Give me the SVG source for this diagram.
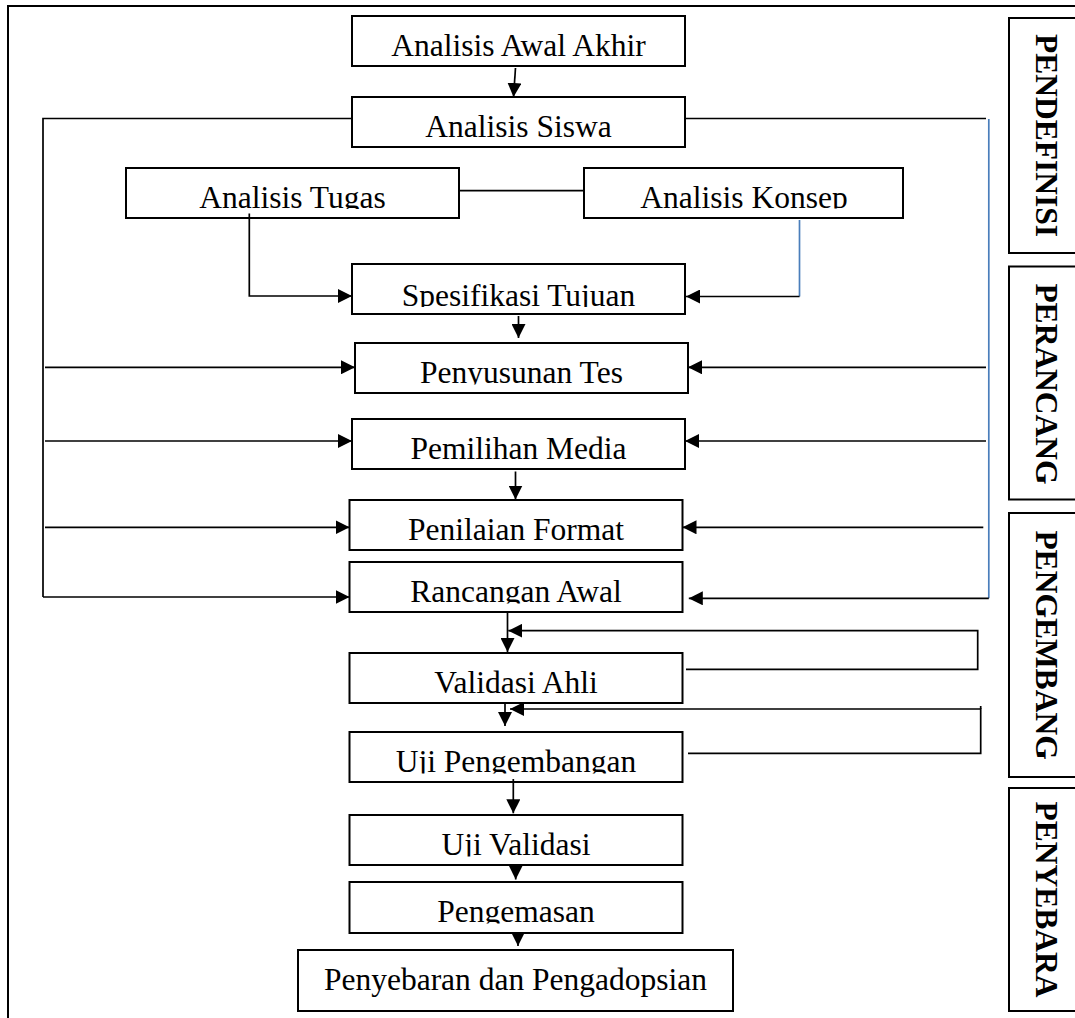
<svg xmlns="http://www.w3.org/2000/svg" width="1075" height="1018" viewBox="0 0 1075 1018">
<style>
.box{fill:#fff;stroke:#000;stroke-width:2}
.t{font-family:"Liberation Serif","Times New Roman",serif;font-size:31.5px;fill:#000;text-anchor:middle}
.lbl{font-family:"Liberation Serif","Times New Roman",serif;font-size:31.5px;font-weight:bold;fill:#000;text-anchor:middle}
.c{fill:none;stroke:#000;stroke-width:1.7}
.cb{fill:none;stroke:#4A7EBB;stroke-width:1.7}
.a{marker-end:url(#ah)}
</style>
<defs>
<marker id="ah" markerUnits="userSpaceOnUse" viewBox="0 0 14 14" refX="14" refY="7" markerWidth="14" markerHeight="14" orient="auto">
<path d="M0,0 L14,7 L0,14 z" fill="#000"/>
</marker>
<clipPath id="c-tugas" clipPathUnits="userSpaceOnUse"><rect x="120" y="160" width="350" height="49"/></clipPath>
<clipPath id="c-konsep" clipPathUnits="userSpaceOnUse"><rect x="580" y="160" width="330" height="48.5"/></clipPath>
<clipPath id="c-spes" clipPathUnits="userSpaceOnUse"><rect x="345" y="255" width="350" height="52"/></clipPath>
<clipPath id="c-peny" clipPathUnits="userSpaceOnUse"><rect x="345" y="335" width="350" height="49.5"/></clipPath>
<clipPath id="c-ranc" clipPathUnits="userSpaceOnUse"><rect x="345" y="555" width="350" height="48.5"/></clipPath>
<clipPath id="c-ujip" clipPathUnits="userSpaceOnUse"><rect x="345" y="725" width="350" height="48.5"/></clipPath>
<clipPath id="c-ujiv" clipPathUnits="userSpaceOnUse"><rect x="345" y="808" width="350" height="48.5"/></clipPath>
<clipPath id="c-peng" clipPathUnits="userSpaceOnUse"><rect x="345" y="875" width="350" height="48.5"/></clipPath>
</defs>
<rect width="1075" height="1018" fill="#fff"/>
<path d="M8,1018 V6 H1075" fill="none" stroke="#000" stroke-width="2"/>

<g id="n-awal"><rect class="box" x="352" y="16" width="333" height="50"/><text class="t" x="518.5" y="56">Analisis Awal Akhir</text></g>
<g id="n-siswa"><rect class="box" x="352" y="97" width="333" height="50"/><text class="t" x="518.5" y="136.5">Analisis Siswa</text></g>
<g id="n-tugas"><rect class="box" x="126" y="168" width="333" height="50"/><text class="t" x="292.5" y="208" clip-path="url(#c-tugas)">Analisis Tugas</text></g>
<g id="n-konsep"><rect class="box" x="584" y="168" width="319" height="50"/><text class="t" x="744" y="208" clip-path="url(#c-konsep)">Analisis Konsep</text></g>
<g id="n-spes"><rect class="box" x="352" y="264" width="333" height="50"/><text class="t" x="518.5" y="305.5" clip-path="url(#c-spes)">Spesifikasi Tujuan</text></g>
<g id="n-peny"><rect class="box" x="355" y="343" width="333" height="50"/><text class="t" x="521.5" y="383" clip-path="url(#c-peny)">Penyusunan Tes</text></g>
<g id="n-media"><rect class="box" x="352" y="419" width="333" height="50"/><text class="t" x="518.5" y="459">Pemilihan Media</text></g>
<g id="n-format"><rect class="box" x="349.5" y="500" width="333" height="50"/><text class="t" x="516" y="540">Penilaian Format</text></g>
<g id="n-ranc"><rect class="box" x="349.5" y="562" width="333" height="50"/><text class="t" x="516" y="602" clip-path="url(#c-ranc)">Rancangan Awal</text></g>
<g id="n-valahli"><rect class="box" x="349.5" y="653" width="333" height="50"/><text class="t" x="516" y="693">Validasi Ahli</text></g>
<g id="n-ujipeng"><rect class="box" x="349.5" y="732" width="333" height="50"/><text class="t" x="516" y="772" clip-path="url(#c-ujip)">Uji Pengembangan</text></g>
<g id="n-ujival"><rect class="box" x="349.5" y="815" width="333" height="50"/><text class="t" x="516" y="855" clip-path="url(#c-ujiv)">Uji Validasi</text></g>
<g id="n-pengemasan"><rect class="box" x="349.5" y="882" width="333" height="51"/><text class="t" x="516" y="922" clip-path="url(#c-peng)">Pengemasan</text></g>
<g id="n-penyebaran"><rect class="box" x="298" y="950" width="435" height="61"/><text class="t" x="515.5" y="990">Penyebaran dan Pengadopsian</text></g>

<g id="phase-labels">
<g id="p-define"><rect class="box" x="1009" y="18" width="90" height="235"/><text class="lbl" transform="translate(1036,135.5) rotate(90)">PENDEFINISI</text></g>
<g id="p-design"><rect class="box" x="1009" y="266.5" width="90" height="233"/><text class="lbl" transform="translate(1036,384) rotate(90)">PERANCANG</text></g>
<g id="p-develop"><rect class="box" x="1009" y="513" width="90" height="264"/><text class="lbl" transform="translate(1036,645) rotate(90)">PENGEMBANG</text></g>
<g id="p-dissem"><rect class="box" x="1009" y="788" width="90" height="223"/><text class="lbl" transform="translate(1036,899.5) rotate(90)">PENYEBARA</text></g>
</g>

<g id="connectors">
<path class="c a" d="M515.5,68 L513.5,97"/>
<path class="c" d="M352,118.5 H43 V597"/>
<path class="c" d="M685,118.5 H986"/>
<path class="cb" d="M988.8,119 V598.3"/>
<path class="c a" d="M988.8,598.3 H688.8"/>
<path class="c" d="M459,190.7 H584"/>
<path class="c a" d="M249.3,213.5 V296 H352"/>
<path class="cb" d="M799.5,220 V296.5"/>
<path class="c a" d="M799.5,296.5 H686"/>
<path class="c a" d="M518.5,316 V338"/>
<path class="c a" d="M45,367.3 H355"/>
<path class="c a" d="M986,367.3 H688"/>
<path class="c a" d="M45,441 H352"/>
<path class="c a" d="M986,441 H685"/>
<path class="c a" d="M515.5,471.5 V499.5"/>
<path class="c a" d="M45,527.3 H349.5"/>
<path class="c a" d="M983.3,527.3 H682.5"/>
<path class="c a" d="M43,597 H349.5"/>
<path class="c a" d="M507.5,612 V652"/>
<path class="c a" d="M686,669.3 H977.7 V630.7 H508.3"/>
<path class="c a" d="M505,703 V726"/>
<path class="c a" d="M688,753.3 H980.7 V709 H510"/>
<path class="c" d="M980.7,706 V709"/>
<path class="c a" d="M513.3,779 V813.3"/>
<path class="c a" d="M515.7,866 V879.5"/>
<path class="c a" d="M518,932 V946"/>
</g>
</svg>
